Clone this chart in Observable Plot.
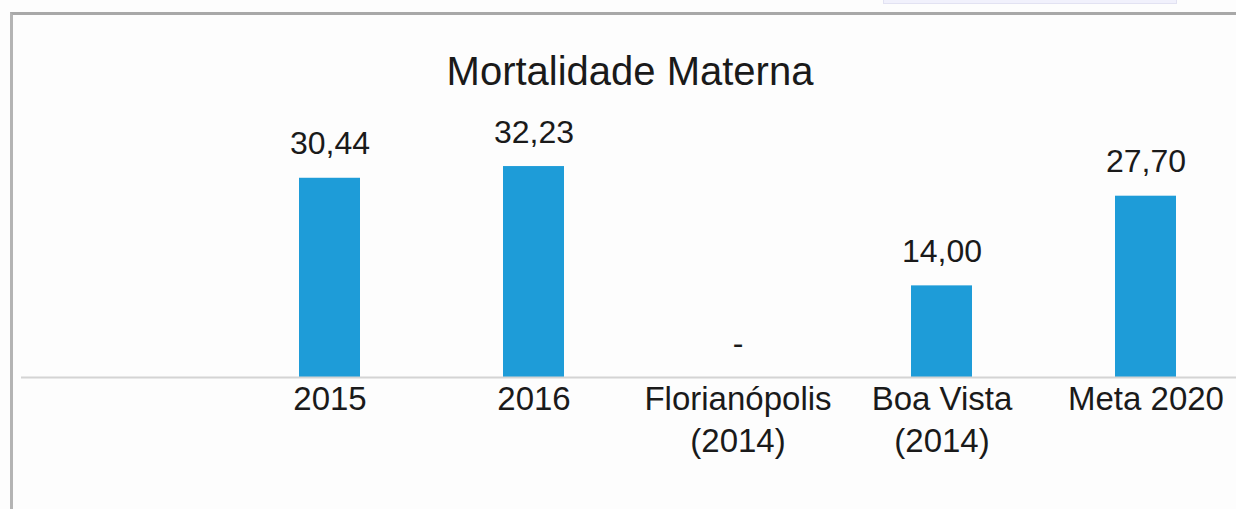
<!DOCTYPE html>
<html>
<head>
<meta charset="utf-8">
<script src="https://cdn.jsdelivr.net/npm/d3@7"></script>
<script src="https://cdn.jsdelivr.net/npm/@observablehq/plot@0.6"></script>
<style>
  html, body { margin: 0; padding: 0; background: #fdfdfd; }
  body { width: 1236px; height: 509px; position: relative; overflow: hidden; font-family: "Liberation Sans", Arial, sans-serif; }
  #frame { position: absolute; left: 10px; top: 12px; width: 1240px; height: 520px; border-top: 3px solid #a8a8a8; border-left: 3px solid #b4b4b4; box-sizing: border-box; }
  #tab { position: absolute; left: 883px; top: -2px; width: 294px; height: 6px; background: #f1f1fc; border: 1px solid #e2e2f2; box-sizing: border-box; }
  #title { position: absolute; left: 430px; top: 51px; width: 400px; text-align: center; font-size: 40px; line-height: 40px; color: #1a1a1a; white-space: nowrap; }
  #chart { position: absolute; left: 0; top: 0; }
</style>
</head>
<body>
<div id="tab"></div>
<div id="frame"></div>
<div id="chart"></div>
<div id="title">Mortalidade Materna</div>
<script>
const categories = ["2015", "2016", "Florianópolis\n(2014)", "Boa Vista\n(2014)", "Meta 2020"];
const values = [30.44, 32.23, 0, 14.00, 27.70];

const data = categories.map((c, i) => ({cat: c, value: values[i]}));
const fmt = v => v === 0 ? "-" : v.toFixed(2).replace(".", ",");

const chart = Plot.plot({
  width: 1236,
  height: 509,
  marginLeft: 21,
  marginRight: 0,
  marginTop: 0,
  marginBottom: 132,
  style: {background: "transparent", fontFamily: "'Liberation Sans', Arial, sans-serif", color: "#1a1a1a"},
  x: {domain: categories, range: [277, 1199], paddingInner: 0.7, paddingOuter: 0.1, label: null},
  y: {domain: [0, 40], range: [377, 115.2], label: null},
  marks: [
    Plot.barY(data, {x: "cat", y: "value", fill: "#1e9cd8"}),
    Plot.ruleY([0], {stroke: "#d4d4d4", strokeWidth: 2}),
    Plot.text(data, {x: "cat", y: "value", text: d => fmt(d.value), lineAnchor: "bottom", dy: -24, fontSize: 32, fill: "#1a1a1a"}),
    Plot.axisX({tickSize: 0, tickPadding: 3, fontSize: 33, lineHeight: 1.27, fill: "#1a1a1a", label: null}),
    Plot.axisY({ticks: []})
  ]
});
document.getElementById("chart").appendChild(chart);
</script>
</body>
</html>
